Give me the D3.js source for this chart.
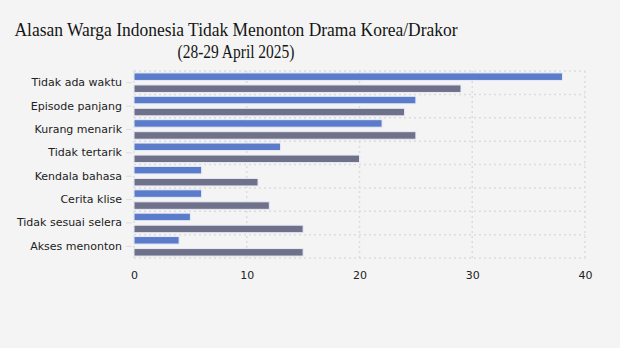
<!DOCTYPE html>
<html>
<head>
<meta charset="utf-8">
<script src="https://cdn.jsdelivr.net/npm/d3@7"></script>
<style>
  body { margin: 0; background: #f4f4f4; }
  svg { display: block; }
  .axis text { font-family: "DejaVu Sans", Verdana, sans-serif; font-size: 11px; fill: #222; }
</style>
</head>
<body>
<svg id="chart" width="620" height="348"></svg>
<script>
"use strict";

// Data
const categories = ["Tidak ada waktu", "Episode panjang", "Kurang menarik", "Tidak tertarik",
  "Kendala bahasa", "Cerita klise", "Tidak sesuai selera", "Akses menonton"];
const seriesA = [38, 25, 22, 13, 6, 6, 5, 4];
const seriesB = [29, 24, 25, 20, 11, 12, 15, 15];
const xTicks = [0, 10, 20, 30, 40];
const titleLines = ["Alasan Warga Indonesia Tidak Menonton Drama Korea/Drakor", "(28-29 April 2025)"];

const series = [
  { key: "a", values: seriesA, color: "#5b7bcb" },
  { key: "b", values: seriesB, color: "#6f7089" }
];

var graph = {};
graph.svg = d3.select("#chart");
graph.margins = { top: 71, left: 134, right: 35, bottom: 90 };
graph.width = 620 - graph.margins.left - graph.margins.right;
graph.height = 258 - graph.margins.top;

graph.svg.append("rect")
  .attr("width", 620).attr("height", 348).attr("fill", "#f4f4f4");

const titleWidths = [443, 117];
graph.svg.append("g")
  .selectAll("text")
  .data(titleLines)
  .enter()
  .append("text")
  .attr("x", 236)
  .attr("y", (d, i) => 36 + i * 22)
  .attr("text-anchor", "middle")
  .attr("font-family", "'Liberation Serif', serif")
  .attr("font-size", "19px")
  .attr("fill", "#151515")
  .attr("textLength", (d, i) => titleWidths[i])
  .attr("lengthAdjust", "spacingAndGlyphs")
  .text(d => d);

graph.main_g = graph.svg.append("g")
  .attr("transform", "translate(" + graph.margins.left + "," + graph.margins.top + ")");

var x = d3.scaleLinear().domain([0, 40]).range([0, graph.width]);
var y = d3.scaleBand().domain(categories).range([0, graph.height]);
var inner = d3.scaleBand().domain(series.map(s => s.key))
  .range([0, y.bandwidth()]).paddingInner(0.375).paddingOuter(0.16);

// Grid
graph.main_g.append("g")
  .selectAll("line")
  .data(xTicks)
  .enter()
  .append("line")
  .attr("x1", d => x(d)).attr("x2", d => x(d))
  .attr("y1", 0).attr("y2", graph.height)
  .attr("stroke", "#dcdcdc")
  .attr("stroke-width", 1.5)
  .attr("stroke-dasharray", "2,3");

graph.main_g.append("g")
  .selectAll("line")
  .data(d3.range(categories.length + 1))
  .enter()
  .append("line")
  .attr("x1", 0).attr("x2", graph.width)
  .attr("y1", d => d * y.step()).attr("y2", d => d * y.step())
  .attr("stroke", "#dcdcdc")
  .attr("stroke-width", 1.5)
  .attr("stroke-dasharray", "2,3");

// Bars
series.forEach(s => {
  graph.main_g.append("g")
    .selectAll("rect")
    .data(s.values)
    .enter()
    .append("rect")
    .attr("x", x(0))
    .attr("y", (d, i) => y(categories[i]) + inner(s.key))
    .attr("width", d => x(d) - x(0))
    .attr("height", inner.bandwidth())
    .attr("fill", s.color)
    .attr("stroke", "#e8ebf7")
    .attr("stroke-width", 1);
});

// Axes
var yAxis = d3.axisLeft(y).tickSize(6).tickPadding(4);
var gY = graph.main_g.append("g")
  .attr("class", "axis")
  .attr("transform", "translate(-2,0)")
  .call(yAxis);
gY.select(".domain").remove();
gY.selectAll(".tick line").attr("stroke", "#dddddd");

var xAxis = d3.axisBottom(x).tickValues(xTicks).tickSize(0).tickPadding(13);
var gX = graph.main_g.append("g")
  .attr("class", "axis")
  .attr("transform", "translate(0," + graph.height + ")")
  .call(xAxis);
gX.select(".domain").remove();
</script>
</body>
</html>
